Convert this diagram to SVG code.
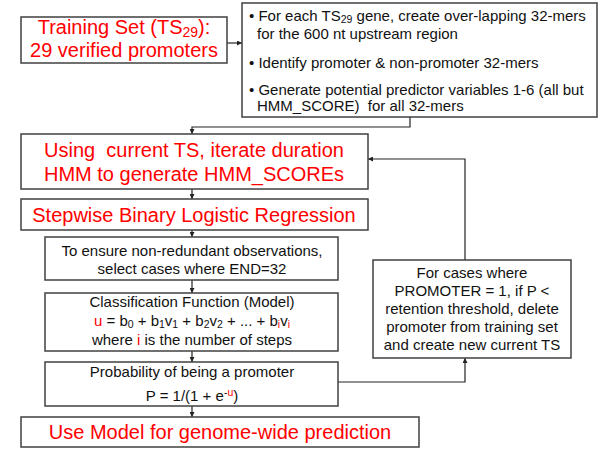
<svg xmlns="http://www.w3.org/2000/svg" width="600" height="451" viewBox="0 0 600 451">
<style>
.box{fill:#fff;stroke:#404040;stroke-width:1.5}
.red{fill:#ff0000;font-family:"Liberation Sans",Arial,sans-serif;font-size:20px}
.blk{fill:#111;font-family:"Liberation Sans",Arial,sans-serif;font-size:15px}
.c{text-anchor:middle}
.ln{fill:none;stroke:#222;stroke-width:1.2}
.r{fill:#ff0000}
</style>
<defs>
<marker id="ah" viewBox="0 0 10 10" refX="10" refY="5" markerWidth="5" markerHeight="5" orient="auto" markerUnits="userSpaceOnUse">
<path d="M0,0L10,5L0,10z" fill="#222"/>
</marker>
</defs>
<rect width="600" height="451" fill="#fff"/>
<g id="connectors">
<path class="ln" d="M227,43H242" marker-end="url(#ah)"/>
<path class="ln" d="M410,117V127H192V134" marker-end="url(#ah)"/>
<path class="ln" d="M192,189V199" marker-end="url(#ah)"/>
<path class="ln" d="M192,230V237" marker-end="url(#ah)"/>
<path class="ln" d="M192,280V293" marker-end="url(#ah)"/>
<path class="ln" d="M192,351V362" marker-end="url(#ah)"/>
<path class="ln" d="M192,406V417" marker-end="url(#ah)"/>
<path class="ln" d="M338,382H465V358" marker-end="url(#ah)"/>
<path class="ln" d="M465,260V159H368" marker-end="url(#ah)"/>
</g>
<g id="training">
<rect class="box" x="21" y="17" width="206" height="46"/>
<text class="red c" x="124" y="34" font-size="21">Training Set (TS<tspan font-size="14" dy="3">29</tspan><tspan dy="-3">):</tspan></text>
<text class="red c" x="124" y="57" font-size="21">29 verified promoters</text>
</g>
<g id="prep">
<rect class="box" x="242" y="3" width="355" height="114"/>
<g class="blk">
<text x="249" y="21">• For each TS<tspan font-size="10.5" dy="2">29</tspan><tspan dy="-2"> gene, create over-lapping 32-mers</tspan></text>
<text x="257" y="39">for the 600 nt upstream region</text>
<text x="249" y="68">• Identify promoter &amp; non-promoter 32-mers</text>
<text x="249" y="95">• Generate potential predictor variables 1-6 (all but</text>
<text x="257" y="111" xml:space="preserve">HMM_SCORE)  for all 32-mers</text>
</g>
</g>
<g id="hmm">
<rect class="box" x="21" y="134" width="347" height="55"/>
<text class="red c" x="194" y="157" xml:space="preserve">Using  current TS, iterate duration</text>
<text class="red c" x="194" y="181">HMM to generate HMM_SCOREs</text>
</g>
<g id="regression">
<rect class="box" x="21" y="199" width="347" height="31"/>
<text class="red c" x="194" y="222">Stepwise Binary Logistic Regression</text>
</g>
<g id="select">
<rect class="box" x="45" y="237" width="293" height="43"/>
<text class="blk c" x="192" y="256">To ensure non-redundant observations,</text>
<text class="blk c" x="192" y="274">select cases where END=32</text>
</g>
<g id="model">
<rect class="box" x="45" y="293" width="293" height="58"/>
<text class="blk c" x="192" y="307">Classification Function (Model)</text>
<text class="blk c" x="192" y="326"><tspan class="r">u</tspan> = b<tspan font-size="10.5" dy="2">0</tspan><tspan dy="-2"> + b</tspan><tspan font-size="10.5" dy="2">1</tspan><tspan dy="-2">v</tspan><tspan font-size="10.5" dy="2">1</tspan><tspan dy="-2"> + b</tspan><tspan font-size="10.5" dy="2">2</tspan><tspan dy="-2">v</tspan><tspan font-size="10.5" dy="2">2</tspan><tspan dy="-2"> + ... + b</tspan><tspan font-size="10.5" dy="2" class="r">i</tspan><tspan dy="-2">v</tspan><tspan font-size="10.5" dy="2" class="r">i</tspan></text>
<text class="blk c" x="192" y="345">where <tspan class="r">i</tspan> is the number of steps</text>
</g>
<g id="prob">
<rect class="box" x="45" y="362" width="293" height="44"/>
<text class="blk c" x="192" y="377">Probability of being a promoter</text>
<text class="blk c" x="192" y="401">P = 1/(1 + e<tspan font-size="10.5" dy="-5">-</tspan><tspan font-size="10.5" class="r">u</tspan><tspan dy="5">)</tspan></text>
</g>
<g id="genome">
<rect class="box" x="21" y="417" width="398" height="30"/>
<text class="red c" x="220" y="439">Use Model for genome-wide prediction</text>
</g>
<g id="retention">
<rect class="box" x="373" y="260" width="198" height="98"/>
<text class="blk c" x="472" y="278">For cases where</text>
<text class="blk c" x="472" y="296">PROMOTER = 1, if P &lt;</text>
<text class="blk c" x="472" y="314">retention threshold, delete</text>
<text class="blk c" x="472" y="332">promoter from training set</text>
<text class="blk c" x="472" y="350">and create new current TS</text>
</g>
</svg>
